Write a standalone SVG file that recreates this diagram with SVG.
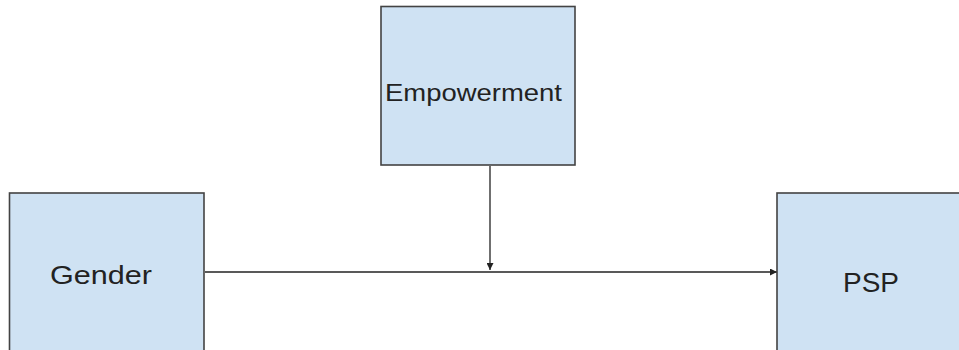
<svg xmlns="http://www.w3.org/2000/svg" width="959" height="350" viewBox="0 0 959 350">
<style>
.box{fill:#cfe2f3;stroke:#434343;stroke-width:1.6}
.lbl{font-family:"Liberation Sans",Arial,sans-serif;fill:#222}
.conn{stroke:#222;stroke-width:1.3;fill:none}
</style>
<defs>
<marker id="ah" viewBox="0 0 10 10" refX="10" refY="5" markerWidth="7" markerHeight="7" markerUnits="userSpaceOnUse" orient="auto">
<path d="M0,0 L10,5 L0,10 z" fill="#222"/>
</marker>
</defs>
<rect width="959" height="350" fill="#fff"/>
<g id="connectors">
<line class="conn" x1="205" y1="272" x2="777" y2="272" marker-end="url(#ah)"/>
<line class="conn" x1="490" y1="166" x2="490" y2="270" marker-end="url(#ah)"/>
</g>
<g id="empowerment">
<rect class="box" x="381" y="6.5" width="194" height="158.5"/>
<text class="lbl" x="385" y="100.5" font-size="24" textLength="177" lengthAdjust="spacingAndGlyphs">Empowerment</text>
</g>
<g id="gender">
<rect class="box" x="9.5" y="193" width="194.5" height="170"/>
<text class="lbl" x="50" y="283.5" font-size="26" textLength="102" lengthAdjust="spacingAndGlyphs">Gender</text>
</g>
<g id="psp">
<rect class="box" x="777" y="193" width="200" height="170"/>
<text class="lbl" x="843" y="291.5" font-size="27" textLength="56" lengthAdjust="spacingAndGlyphs">PSP</text>
</g>
</svg>
